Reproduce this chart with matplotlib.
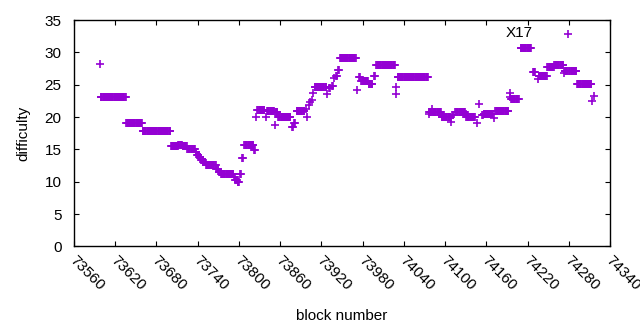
import numpy as np
import matplotlib
matplotlib.use("Agg")
import matplotlib.pyplot as plt
import matplotlib.transforms as mtransforms

# difficulty held constant over runs of consecutive blocks: (first block, last block, difficulty)
run_start = [73598, 73599, 73636, 73660, 73701, 73712, 73718, 73725, 73737, 73739,
             73742, 73745, 73748, 73752, 73767, 73771, 73774, 73793, 73795, 73798,
             73802, 73805, 73808, 73822, 73825, 73827, 73839, 73841, 73852, 73853,
             73857, 73877, 73880, 73884, 73897, 73899, 73902, 73904, 73906, 73908,
             73910, 73928, 73931, 73936, 73939, 73941, 73944, 73947, 73972, 73975,
             73978, 73989, 73997, 74000, 74028, 74029, 74031, 74076, 74077, 74081,
             74082, 74095, 74109, 74111, 74115, 74130, 74131, 74146, 74150, 74154,
             74156, 74171, 74173, 74194, 74195, 74196, 74210, 74228, 74235, 74236,
             74249, 74259, 74273, 74274, 74279, 74280, 74292, 74314, 74317]
run_end = [73598, 73635, 73659, 73700, 73711, 73717, 73724, 73736, 73738, 73741,
           73744, 73747, 73751, 73766, 73770, 73773, 73792, 73794, 73797, 73800,
           73803, 73806, 73821, 73823, 73825, 73837, 73839, 73851, 73852, 73856,
           73875, 73878, 73881, 73895, 73897, 73899, 73902, 73904, 73906, 73908,
           73927, 73928, 73932, 73937, 73939, 73942, 73945, 73970, 73972, 73976,
           73988, 73994, 73998, 74027, 74028, 74029, 74075, 74076, 74080, 74081,
           74094, 74108, 74109, 74112, 74129, 74130, 74143, 74146, 74150, 74155,
           74170, 74171, 74192, 74194, 74195, 74207, 74225, 74231, 74235, 74248,
           74258, 74272, 74273, 74278, 74279, 74291, 74313, 74314, 74317]
run_difficulty = [28.2, 23.1, 19.0, 17.9, 15.45, 15.75, 15.55, 15.1, 14.6, 14.2,
                  13.8, 13.4, 13.05, 12.65, 11.9, 11.5, 11.15, 10.7, 10.3, 9.95,
                  11.25, 13.6, 15.6, 14.95, 20.0, 21.1, 20.0, 21.0, 18.8, 20.75,
                  20.05, 18.45, 19.05, 21.0, 21.3, 20.05, 21.8, 22.3, 22.65, 23.7,
                  24.67, 23.5, 24.45, 24.75, 26.05, 26.4, 27.3, 29.15, 24.2, 26.25,
                  25.5, 25.1, 26.4, 28.06, 23.6, 24.6, 26.2, 20.5, 20.8, 21.3,
                  20.8, 20.05, 19.2, 20.25, 20.85, 20.5, 20.05, 19.1, 21.95, 20.25,
                  20.5, 19.8, 20.9, 23.75, 23.07, 22.8, 30.7, 27.0, 25.9, 26.35,
                  27.7, 28.06, 26.8, 27.07, 32.9, 27.07, 25.1, 22.45, 23.3]

x_ticks = list(range(73560, 74341, 60))
y_ticks = [0, 5, 10, 15, 20, 25, 30, 35]

blocks = []
difficulty = []
for s, e, d in zip(run_start, run_end, run_difficulty):
    for b in range(s, e + 1):
        blocks.append(b)
        difficulty.append(d)

plt.rcParams['font.family'] = ['Liberation Sans', 'DejaVu Sans']
plt.rcParams['font.size'] = 11

fig = plt.figure(figsize=(6.4, 3.3), dpi=100)
ax = fig.add_axes([74 / 640, 1 - 246.4 / 330, (610 - 74) / 640, (246.4 - 20) / 330])

ax.plot(blocks, difficulty, '+', color='#9400d3', markersize=5.2, markeredgewidth=1.2)

ax.set_xlim(73560, 74340)
ax.set_ylim(0, 35)
ax.set_xticks(x_ticks)
ax.set_yticks(y_ticks)
ax.set_xticklabels([str(t) for t in x_ticks], rotation=-45, ha='left', va='top',
                   rotation_mode='anchor')
ax.tick_params(direction='in', length=3.5, width=0.8, top=True, right=True, color='black')
ax.tick_params(axis='y', pad=9)
ax.tick_params(axis='x', pad=5)
# nudge rotated labels so they start right at the tick
shift = mtransforms.ScaledTranslation(3 / 100, 0, fig.dpi_scale_trans)
for lbl in ax.get_xticklabels():
    lbl.set_transform(lbl.get_transform() + shift)
for sp in ax.spines.values():
    sp.set_linewidth(1.0)

ax.set_xlabel('block number')
ax.set_ylabel('difficulty', labelpad=10)
ax.xaxis.set_label_coords(0.5, -0.278)

ax.text(74188, 33.0, 'X17', ha='left', va='center', fontsize=11)

plt.savefig('out.png', dpi=100)
